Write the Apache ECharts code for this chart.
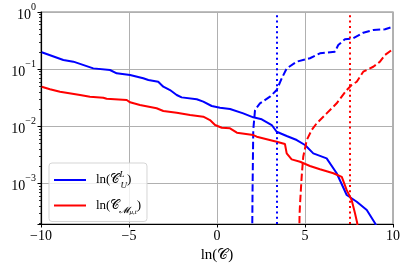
<!DOCTYPE html>
<html><head><meta charset="utf-8">
<script src="https://cdn.jsdelivr.net/npm/echarts@6/dist/echarts.min.js"></script>
<style>html,body{margin:0;padding:0;background:#fff}#c{width:407px;height:269px}</style>
</head><body><div id="c"></div>
<script>
// Data
const xTicks = [-10, -5, 0, 5, 10];
const yTicks = [1e-3, 1e-2, 1e-1, 1];
const yMinor = [2e-4,3e-4,4e-4,5e-4,6e-4,7e-4,8e-4,9e-4,2e-3,3e-3,4e-3,5e-3,6e-3,7e-3,8e-3,9e-3,2e-2,3e-2,4e-2,5e-2,6e-2,7e-2,8e-2,9e-2,0.2,0.3,0.4,0.5,0.6,0.7,0.8,0.9];
const blueSolid = [[-9.96,0.197],[-8.73,0.144],[-8.16,0.135],[-7.03,0.103],[-6.08,0.0964],[-5.70,0.0844],[-4.94,0.0788],[-4.19,0.069],[-3.90,0.0644],[-3.34,0.0601],[-3.05,0.0492],[-2.67,0.043],[-2.29,0.0352],[-2.01,0.032],[-1.15,0.0296],[-0.78,0.0269],[-0.30,0.0226],[0.17,0.0211],[0.74,0.020],[1.49,0.0168],[2.06,0.0143],[2.54,0.0132],[3.11,0.0105],[3.39,0.0080],[3.96,0.00674],[4.53,0.00573],[5.0,0.00469],[5.47,0.00335],[6.23,0.00274],[6.80,0.0015],[7.37,0.000624],[7.94,0.000476],[8.51,0.00034],[8.98,0.0002],[9.3,0.00012]];
const blueDashed = [[1.97,0.00001],[2.02,0.00076],[2.06,0.00858],[2.16,0.0192],[2.44,0.0252],[3.01,0.0329],[3.39,0.043],[3.68,0.069],[3.96,0.103],[4.53,0.135],[5.28,0.155],[5.85,0.189],[6.70,0.202],[6.89,0.264],[7.27,0.333],[7.74,0.346],[8.31,0.434],[8.88,0.484],[9.55,0.498],[9.98,0.553]];
const redSolid = [[-9.96,0.0492],[-9.49,0.0443],[-8.92,0.0402],[-8.82,0.0377],[-7.78,0.0352],[-7.22,0.0329],[-6.46,0.0316],[-6.27,0.0303],[-5.13,0.0288],[-4.94,0.0262],[-4.38,0.0235],[-3.43,0.0206],[-3.05,0.0185],[-2.29,0.0172],[-1.53,0.0157],[-0.78,0.0147],[-0.40,0.0128],[-0.11,0.0105],[0.27,0.0094],[0.74,0.0092],[1.13,0.0077],[2.06,0.0070],[2.26,0.00655],[3.39,0.00535],[3.86,0.00488],[3.96,0.00335],[4.24,0.00263],[4.72,0.00239],[5.28,0.00201],[5.85,0.00176],[6.61,0.0015],[7.09,0.0013],[7.37,0.00076],[7.65,0.00051],[7.84,0.0003],[7.97,0.0002],[8.04,0.00001]];
const redDashed = [[4.63,0.00001],[4.69,0.00028],[4.72,0.000447],[4.81,0.0013],[4.90,0.00292],[5.10,0.00573],[5.38,0.00858],[5.66,0.0112],[6.23,0.0168],[6.80,0.0252],[7.37,0.043],[7.65,0.0527],[7.94,0.0601],[8.31,0.090],[8.88,0.110],[9.26,0.135],[9.55,0.177],[9.98,0.222]];
const blueCut = 3.39;
const redCut = 7.56;
const legendNames = ['blue', 'red'];

const FONT = 'Liberation Serif';
const chart = echarts.init(document.getElementById('c'), null, {renderer: 'canvas'});
const yMin = 1.94e-4, yMax = 1;
function supLabel(v) {
  const e = Math.round(Math.log10(v));
  if (Math.abs(Math.log10(v) - e) > 1e-6) return '';
  return '{b|10}{s|' + (e < 0 ? '\u2212' + (-e) : e) + '}';
}
const lineStyle = (c, t) => ({color: c, width: 2, type: t, cap: 'butt'});
chart.setOption({
  animation: false,
  grid: {left: 41, right: 14, top: 12, bottom: 45, show: true, borderColor: '#808080', borderWidth: 1.2, containLabel: false},
  xAxis: {
    type: 'value', min: -10, max: 10, interval: 5,
    name: 'ln(\u{1D49E})', nameLocation: 'middle', nameGap: 24,
    nameTextStyle: {fontFamily: FONT, fontSize: 15, color: '#000'},
    axisLine: {show: true, onZero: false, lineStyle: {color: '#000', width: 1.2}},
    axisTick: {show: true, inside: false, length: 3.5, lineStyle: {color: '#000', width: 1}},
    axisLabel: {fontFamily: FONT, fontSize: 14, color: '#000', margin: 5,
      formatter: v => xTicks.includes(v) ? (v < 0 ? '\u2212' + Math.abs(v) : String(v)) : ''},
    splitLine: {show: true, lineStyle: {color: '#b0b0b0', width: 1}}
  },
  yAxis: [{
    type: 'log', logBase: 10, min: yMin, max: yMax,
    axisLine: {show: true, onZero: false, lineStyle: {color: '#000', width: 1.2}},
    axisTick: {show: true, inside: false, length: 3.5, lineStyle: {color: '#000', width: 1}},
    axisLabel: {color: '#000', margin: 5, formatter: supLabel,
      rich: {b: {fontFamily: FONT, fontSize: 14, lineHeight: 20, verticalAlign: 'bottom'},
             s: {fontFamily: FONT, fontSize: 10, lineHeight: 10, verticalAlign: 'top'}}},
    splitLine: {show: true, lineStyle: {color: '#b0b0b0', width: 1}},
    minorTick: {show: false}
  }, {
    type: 'log', logBase: 10, min: yMin, max: yMax, position: 'left', offset: 0,
    axisLine: {show: false, onZero: false},
    axisTick: {show: true, inside: false, length: 2, customValues: yMinor, lineStyle: {color: '#000', width: 0.8}},
    axisLabel: {show: false},
    splitLine: {show: false}
  }],
  legend: {
    left: 49, top: 163, orient: 'vertical', itemWidth: 32, itemHeight: 2, itemGap: 9,
    icon: 'rect', padding: [7, 6, 6, 5],
    backgroundColor: 'rgba(255,255,255,0.8)', borderColor: '#d5d5d5', borderWidth: 1, borderRadius: 3,
    data: legendNames,
    formatter: n => n === 'blue'
      ? '{t|ln(\u{1D49E}}{sp|L}{sb|U}{t|)}'
      : '{t|ln(\u{1D49E}}{sb|\u{1D4DC}}{ssb|\u03BC,t}{t|)}',
    textStyle: {color: '#000', padding: [0, 0, 0, 5], rich: {
      t: {fontFamily: FONT, fontSize: 13, lineHeight: 20, verticalAlign: 'middle', color: '#000'},
      sp: {fontFamily: FONT, fontSize: 9, lineHeight: 9, verticalAlign: 'top', width: 1, color: '#000', fontStyle: 'italic'},
      sb: {fontFamily: FONT, fontSize: 9, lineHeight: 9, verticalAlign: 'bottom', color: '#000', fontStyle: 'italic'},
      ssb: {fontFamily: FONT, fontSize: 7, lineHeight: 5, verticalAlign: 'bottom', color: '#000', fontStyle: 'italic'}
    }}
  },
  series: [
    {name: 'blue', type: 'line', data: blueSolid, showSymbol: false, symbol: 'none', lineStyle: lineStyle('#0000ff', 'solid'), color: '#0000ff', z: 3,
     markLine: {silent: true, symbol: 'none', label: {show: false}, lineStyle: {color: '#0000ff', width: 2, type: [2, 3.3]}, data: [{xAxis: blueCut}]}},
    {name: 'blue', type: 'line', data: blueDashed, showSymbol: false, symbol: 'none', lineStyle: lineStyle('#0000ff', [7.4, 3.2]), color: '#0000ff', z: 3},
    {name: 'red', type: 'line', data: redSolid, showSymbol: false, symbol: 'none', lineStyle: lineStyle('#ff0000', 'solid'), color: '#ff0000', z: 3,
     markLine: {silent: true, symbol: 'none', label: {show: false}, lineStyle: {color: '#ff0000', width: 2, type: [2, 3.3]}, data: [{xAxis: redCut}]}},
    {name: 'red', type: 'line', data: redDashed, showSymbol: false, symbol: 'none', lineStyle: lineStyle('#ff0000', [7.4, 3.2]), color: '#ff0000', z: 3}
  ]
});
</script></body></html>
